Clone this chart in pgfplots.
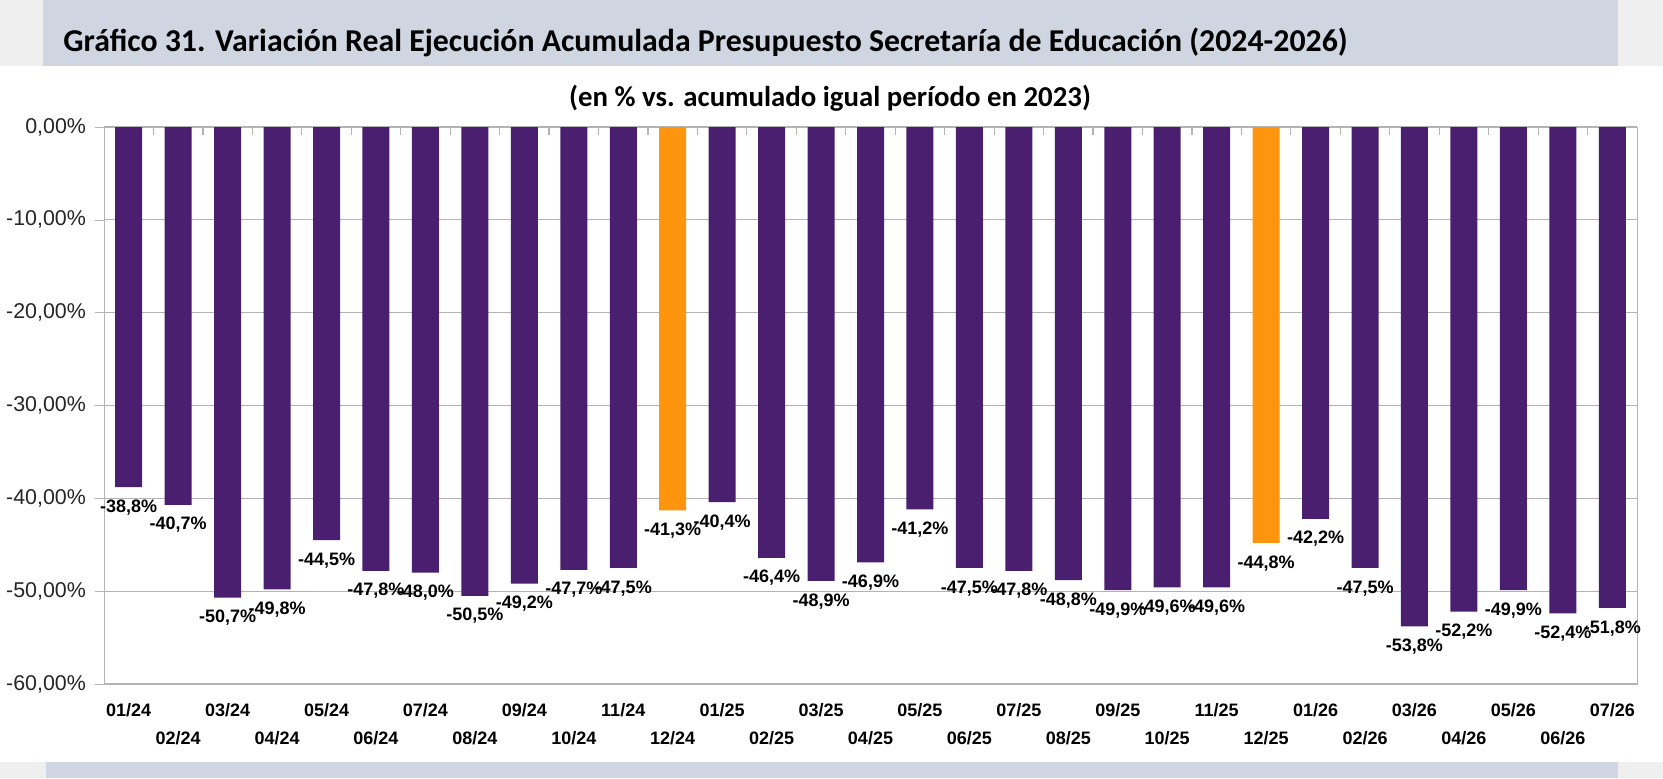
\documentclass[border=0pt]{standalone}
\usepackage{pgfplots}
\pgfplotsset{compat=1.18}
\usepackage{pgfplotstable}
\usepackage{fontspec}
\setmainfont{Liberation Sans}
\newfontfamily\carlito{Carlito}
\definecolor{purp}{HTML}{4B1F6F}
\definecolor{orng}{HTML}{FF950E}
\definecolor{barbg}{HTML}{CFD5E1}
\definecolor{sidegray}{HTML}{EFEFEF}
\definecolor{gridc}{HTML}{B3B3B3}

\pgfplotstableread{
idx y lab
0 -38.8 -38,8
1 -40.7 -40,7
2 -50.7 -50,7
3 -49.8 -49,8
4 -44.5 -44,5
5 -47.8 -47,8
6 -48.0 -48,0
7 -50.5 -50,5
8 -49.2 -49,2
9 -47.7 -47,7
10 -47.5 -47,5
12 -40.4 -40,4
13 -46.4 -46,4
14 -48.9 -48,9
15 -46.9 -46,9
16 -41.2 -41,2
17 -47.5 -47,5
18 -47.8 -47,8
19 -48.8 -48,8
20 -49.9 -49,9
21 -49.6 -49,6
22 -49.6 -49,6
24 -42.2 -42,2
25 -47.5 -47,5
26 -53.8 -53,8
27 -52.2 -52,2
28 -49.9 -49,9
29 -52.4 -52,4
30 -51.8 -51,8
}\purpdata

\pgfplotstableread{
idx y lab
11 -41.3 -41,3
23 -44.8 -44,8
}\orngdata

\begin{document}
\begin{tikzpicture}
\useasboundingbox (0,0) rectangle (831.5pt,389pt);
\fill[white] (0,0) rectangle (831.5pt,389pt);
% top band
\fill[sidegray] (0,356pt) rectangle (21.5pt,389pt);
\fill[barbg] (21.5pt,356pt) rectangle (809pt,389pt);
\fill[sidegray] (809pt,356pt) rectangle (831.5pt,389pt);
% bottom band
\fill[sidegray] (0,0) rectangle (23pt,8pt);
\fill[barbg] (23pt,0) rectangle (809pt,8pt);
\fill[sidegray] (809pt,0) rectangle (831.5pt,8pt);
% titles
\node[anchor=west, inner sep=0pt, font=\carlito\bfseries\fontsize{15.9}{18}\selectfont] at (31.5pt,368pt)
  {Gráfico 31. Variación Real Ejecución Acumulada Presupuesto Secretaría de Educación (2024-2026)};
\node[anchor=center, inner sep=0pt, font=\carlito\bfseries\fontsize{14.4}{16}\selectfont] at (415pt,340pt)
  {(en \% vs. acumulado igual período en 2023)};

\begin{axis}[
  at={(52pt,47pt)}, anchor=south west,
  width=766.5pt, height=278.5pt, scale only axis,
  xmin=-0.5, xmax=30.5, ymin=-60, ymax=0,
  enlargelimits=false, clip=false,
  axis line style={gridc},
  ybar, bar width=13.5pt,
  ytick={-60,-50,-40,-30,-20,-10,0},
  yticklabels={{-60,00\%},{-50,00\%},{-40,00\%},{-30,00\%},{-20,00\%},{-10,00\%},{0,00\%}},
  ytick pos=left,
  ymajorgrids, grid style={gridc, line width=0.6pt},
  tick align=outside,
  major tick length=4.5pt,
  ytick style={gridc},
  y tick label style={font=\fontsize{10.7}{12}\selectfont, color=black!85, xshift=-1pt},
  xtick={0,2,...,30},
  xticklabels={01/24,03/24,05/24,07/24,09/24,11/24,01/25,03/25,05/25,07/25,09/25,11/25,01/26,03/26,05/26,07/26},
  extra x ticks={1,3,...,29},
  extra x tick labels={02/24,04/24,06/24,08/24,10/24,12/24,02/25,04/25,06/25,08/25,10/25,12/25,02/26,04/26,06/26},
  extra x tick style={grid=none, xtick style={draw=none}, xticklabel style={yshift=-14.3pt}},
  xtick style={draw=none},
  x tick label style={font=\bfseries\fontsize{9}{11}\selectfont, yshift=-1.5pt},
  xtick pos=left,
  nodes near coords,
  point meta=explicit symbolic,
  nodes near coords={\pgfplotspointmeta\%},
  every node near coord/.append style={font=\bfseries\fontsize{9}{11}\selectfont, color=black, yshift=-17.5pt},
]
\addplot[fill=purp, draw=none, bar shift=0pt] table[x=idx, y=y, meta=lab] {\purpdata};
\addplot[fill=orng, draw=none, bar shift=0pt] table[x=idx, y=y, meta=lab] {\orngdata};
\pgfplotsinvokeforeach{0,...,29}{
  \draw[gridc, line width=0.6pt] (axis cs:#1.5,0) -- ([yshift=-4pt]axis cs:#1.5,0);
}
\end{axis}
\end{tikzpicture}
\end{document}
